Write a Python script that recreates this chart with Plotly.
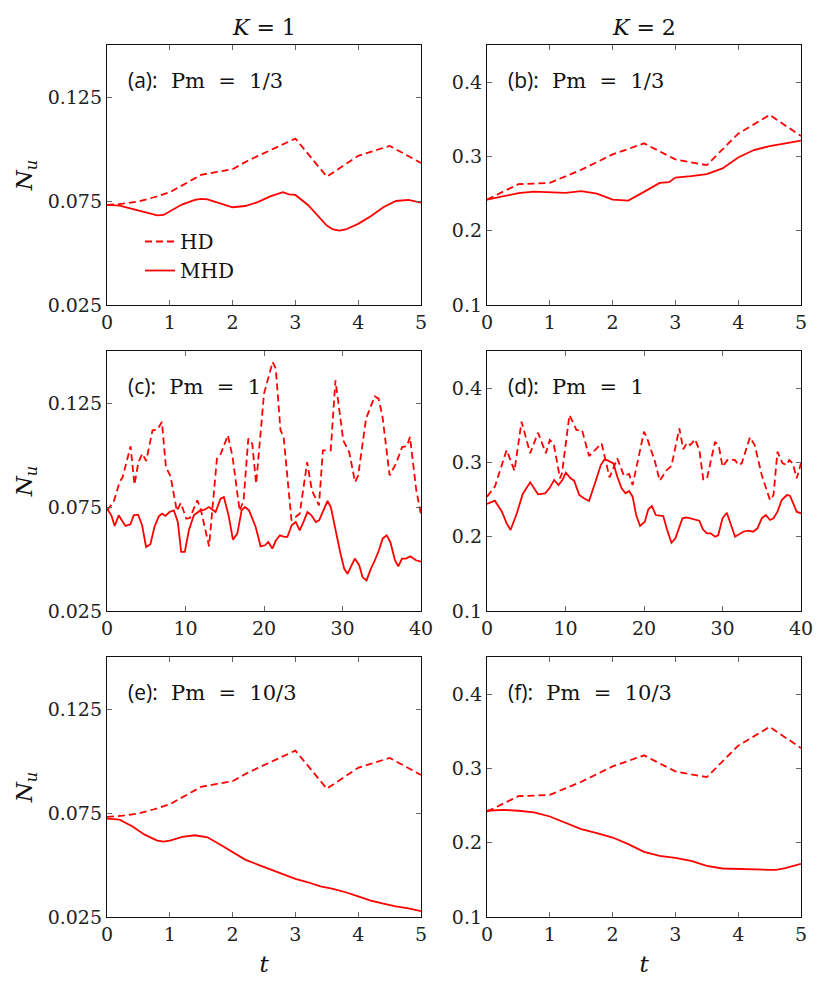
import plotly.graph_objects as go
from plotly.subplots import make_subplots

# HD runs do not depend on Pm, so (a)/(e) and (b)/(f) share them
t_hd_k1 = [0, 0.25, 0.5, 0.75, 1, 1.25, 1.5, 1.75, 2, 2.25, 2.5, 2.75, 3, 3.5, 4, 4.5, 5]
hd_k1 = [0.0731, 0.0737, 0.0748, 0.0768, 0.0792, 0.0835, 0.0876, 0.0890, 0.0903, 0.0945,
         0.0980, 0.1015, 0.1050, 0.0867, 0.0967, 0.1015, 0.0933]

t_hd_k2 = [0, 0.5, 1, 1.5, 2, 2.5, 3, 3.5, 4, 4.5, 5]
hd_k2 = [0.2419, 0.2626, 0.2644, 0.2820, 0.3027, 0.3176, 0.2960, 0.2883, 0.3306, 0.3559, 0.3275]

# (a) K=1, Pm=1/3
t_a = [0, 0.2, 0.4, 0.6, 0.8, 0.9, 1.0, 1.2, 1.4, 1.5, 1.6, 1.8, 2.0, 2.2, 2.4, 2.6, 2.8, 2.9,
       3.0, 3.2, 3.4, 3.5, 3.6, 3.7, 3.8, 4.0, 4.2, 4.4, 4.6, 4.8, 5.0]
mhd_a = [0.0731, 0.0728, 0.0712, 0.0696, 0.0681, 0.0683, 0.0699, 0.0734, 0.0755, 0.0760,
         0.0758, 0.0740, 0.0720, 0.0726, 0.0745, 0.0772, 0.0792, 0.0782, 0.0779, 0.0731,
         0.0664, 0.0632, 0.0613, 0.0608, 0.0613, 0.0640, 0.0677, 0.0720, 0.0750, 0.0755, 0.0742]

# (b) K=2, Pm=1/3
t_b = [0, 0.25, 0.5, 0.75, 1, 1.25, 1.5, 1.75, 2, 2.25, 2.5, 2.75, 2.9, 3, 3.25, 3.5, 3.75,
       4, 4.25, 4.5, 4.75, 5]
mhd_b = [0.2419, 0.2464, 0.2505, 0.2527, 0.2518, 0.2509, 0.2532, 0.2500, 0.2419, 0.2405,
         0.2523, 0.2644, 0.2653, 0.2716, 0.2734, 0.2761, 0.2838, 0.2986, 0.3086, 0.3140,
         0.3176, 0.3212]

# (c) K=1, Pm=1
t_hd_c = [0, 0.85, 1.6, 2, 3, 3.5, 4, 4.5, 5, 5.8, 6.4, 7, 7.5, 8.1, 8.9, 9.4, 10.1, 10.55,
          11.5, 11.9, 13, 14, 14.5, 15.4, 16, 16.6, 16.9, 17.4, 18, 18.5, 19, 20, 20.55, 21.1,
          21.5, 22.1, 22.5, 23.5, 24.55, 25.5, 26.1, 27, 27.5, 28.5, 29.1, 30.1, 30.85, 31.6,
          32, 33, 34.1, 34.6, 35.1, 36, 36.8, 37.6, 38.2, 38.6, 39.4, 40]
hd_c = [0.0734, 0.0774, 0.0870, 0.0894, 0.1042, 0.0857, 0.0966, 0.1006, 0.0971, 0.1119,
        0.1122, 0.1159, 0.0942, 0.0897, 0.0731, 0.0769, 0.0694, 0.0697, 0.0782, 0.0745,
        0.0561, 0.0982, 0.1006, 0.1095, 0.0990, 0.0814, 0.0731, 0.0782, 0.1079, 0.1054,
        0.0862, 0.1295, 0.1367, 0.1447, 0.1415, 0.1119, 0.1087, 0.0686, 0.0718, 0.0966,
        0.0830, 0.0758, 0.1022, 0.1022, 0.1359, 0.1070, 0.1014, 0.0870, 0.0902, 0.1175,
        0.1282, 0.1271, 0.1183, 0.0902, 0.0958, 0.1038, 0.1042, 0.1087, 0.0830, 0.0715]
t_c = [0, 0.55, 0.98, 1.49, 2.34, 2.98, 3.4, 3.96, 4.47, 4.98, 5.53, 6.04, 6.6, 7.02, 7.45,
       7.96, 8.51, 9.02, 9.45, 9.91, 10.43, 11.06, 11.79, 12.43, 12.98, 13.83, 14.47, 14.89,
       15.53, 16.04, 16.6, 17.15, 17.57, 18.09, 18.94, 19.57, 20.13, 20.55, 21.06, 21.53,
       22.04, 22.55, 22.98, 23.53, 24.04, 24.55, 25.11, 25.53, 26.04, 26.6, 27.02, 27.57,
       28.09, 28.51, 29.15, 29.7, 30.21, 30.64, 31.06, 31.57, 32.13, 32.55, 33.06, 33.62,
       34.13, 34.64, 35.11, 35.62, 36.09, 36.68, 37.11, 37.57, 38.09, 38.64, 39.36, 40]
mhd_c = [0.0742, 0.0710, 0.0659, 0.0710, 0.0659, 0.0667, 0.0710, 0.0713, 0.0662, 0.0558,
         0.0571, 0.0654, 0.0705, 0.0718, 0.0707, 0.0726, 0.0734, 0.0678, 0.0534, 0.0534,
         0.0638, 0.0710, 0.0731, 0.0737, 0.0750, 0.0726, 0.0790, 0.0798, 0.0702, 0.0593,
         0.0622, 0.0734, 0.0750, 0.0734, 0.0654, 0.0561, 0.0566, 0.0582, 0.0550, 0.0590,
         0.0614, 0.0606, 0.0606, 0.0662, 0.0678, 0.0638, 0.0686, 0.0726, 0.0710, 0.0678,
         0.0686, 0.0734, 0.0779, 0.0750, 0.0630, 0.0534, 0.0454, 0.0429, 0.0462, 0.0502,
         0.0470, 0.0413, 0.0397, 0.0454, 0.0494, 0.0542, 0.0598, 0.0614, 0.0582, 0.0494,
         0.0465, 0.0502, 0.0502, 0.0513, 0.0494, 0.0487]

# (d) K=2, Pm=1
t_hd_d = [0, 1.0, 2.5, 3.5, 4.4, 5.5, 6.5, 7.5, 8.0, 8.5, 9.3, 9.55, 10.5, 11.4, 12.1, 13.0,
          13.75, 14.6, 15.0, 15.6, 16.0, 16.6, 17.45, 18.1, 18.55, 19.5, 20.0, 20.4, 21.4,
          22.0, 22.9, 23.5, 24.5, 25.0, 25.5, 25.9, 26.5, 27.05, 27.55, 28.0, 28.5, 29.05,
          29.55, 30.0, 30.7, 31.6, 32.0, 32.45, 33.5, 34.1, 35.0, 36.05, 36.5, 37.0, 37.65,
          38.2, 38.5, 38.95, 39.45, 40]
hd_d = [0.2539, 0.2673, 0.3167, 0.2889, 0.3548, 0.3123, 0.3400, 0.3123, 0.3302, 0.3248,
        0.2786, 0.2853, 0.3638, 0.3436, 0.3436, 0.3086, 0.3167, 0.3257, 0.3077, 0.2800,
        0.2898, 0.3055, 0.2817, 0.2844, 0.2696, 0.3167, 0.3413, 0.3324, 0.3010, 0.2754,
        0.2898, 0.2952, 0.3459, 0.3177, 0.3266, 0.3234, 0.3311, 0.3167, 0.2773, 0.2773,
        0.3032, 0.3279, 0.3212, 0.2942, 0.3042, 0.3032, 0.2965, 0.2988, 0.3338, 0.3234,
        0.2830, 0.2494, 0.2561, 0.3144, 0.2988, 0.2965, 0.3032, 0.2988, 0.2786, 0.2988]
t_d = [0, 1.0, 1.9, 2.5, 3.0, 3.8, 4.55, 5.5, 6.5, 7.4, 7.95, 8.55, 9.1, 9.6, 10.05, 10.65,
       11.1, 11.75, 12.35, 13.0, 13.75, 14.5, 15.0, 16.1, 16.6, 17.15, 17.65, 18.1, 18.55,
       19.0, 19.5, 20.1, 20.55, 21.0, 21.5, 22.45, 22.95, 23.5, 24.0, 24.9, 25.4, 27.05,
       27.5, 28.0, 28.5, 29.05, 29.45, 30.0, 30.55, 31.05, 31.6, 32.65, 33.3, 33.9, 34.45,
       35.0, 35.5, 36.05, 36.5, 37.0, 37.55, 38.2, 38.6, 39.45, 40]
mhd_d = [0.2440, 0.2485, 0.2337, 0.2180, 0.2090, 0.2315, 0.2575, 0.2732, 0.2571, 0.2584,
         0.2651, 0.2763, 0.2696, 0.2763, 0.2862, 0.2786, 0.2754, 0.2561, 0.2517, 0.2481,
         0.2719, 0.2965, 0.3046, 0.2988, 0.2808, 0.2651, 0.2584, 0.2615, 0.2539, 0.2292,
         0.2144, 0.2202, 0.2369, 0.2413, 0.2292, 0.2279, 0.2090, 0.1919, 0.1978, 0.2248,
         0.2261, 0.2215, 0.2100, 0.2046, 0.2046, 0.2000, 0.2019, 0.2248, 0.2323, 0.2158,
         0.2000, 0.2067, 0.2081, 0.2067, 0.2113, 0.2248, 0.2292, 0.2225, 0.2248, 0.2337,
         0.2494, 0.2561, 0.2552, 0.2337, 0.2315]

# (e) K=1, Pm=10/3
t_e = [0, 0.2, 0.4, 0.6, 0.8, 0.9, 1.0, 1.2, 1.4, 1.6, 1.8, 2.0, 2.2, 2.4, 2.6, 2.8, 3.0,
       3.2, 3.4, 3.6, 3.8, 4.0, 4.2, 4.4, 4.6, 4.8, 5.0]
mhd_e = [0.0723, 0.0718, 0.0686, 0.0646, 0.0617, 0.0612, 0.0617, 0.0635, 0.0643, 0.0633,
         0.0599, 0.0561, 0.0526, 0.0502, 0.0478, 0.0454, 0.0433, 0.0417, 0.0397, 0.0385,
         0.0369, 0.0349, 0.0329, 0.0314, 0.0301, 0.0292, 0.0278]

# (f) K=2, Pm=10/3
t_f = [0, 0.25, 0.5, 0.75, 1, 1.25, 1.5, 1.75, 2, 2.25, 2.5, 2.75, 3, 3.25, 3.5, 3.75, 4,
       4.25, 4.5, 4.6, 4.75, 5]
mhd_f = [0.2430, 0.2443, 0.2430, 0.2407, 0.2353, 0.2273, 0.2183, 0.2129, 0.2070, 0.1981,
         0.1877, 0.1824, 0.1797, 0.1756, 0.1689, 0.1653, 0.1644, 0.1635, 0.1635, 0.1635,
         0.1657, 0.1716]

labels = ["(a):", "(b):", "(c):", "(d):", "(e):", "(f):"]
pm_text = ["1/3", "1/3", "1", "1", "10/3", "10/3"]

panels = [
    (t_hd_k1, hd_k1, t_a, mhd_a),
    (t_hd_k2, hd_k2, t_b, mhd_b),
    (t_hd_c, hd_c, t_c, mhd_c),
    (t_hd_d, hd_d, t_d, mhd_d),
    (t_hd_k1, hd_k1, t_e, mhd_e),
    (t_hd_k2, hd_k2, t_f, mhd_f),
]

SERIF = "DejaVu Serif"
RED = "#ff0000"
W, H = 830, 995

fig = make_subplots(rows=3, cols=2)

x_dom = [(107, 421), (487, 801)]
y_dom = [(45, 305), (351, 611), (657, 917)]

for i, (th, hd, tm, mhd) in enumerate(panels):
    r, c = i // 2 + 1, i % 2 + 1
    first = i == 0
    fig.add_trace(go.Scatter(x=th, y=hd, mode="lines", name="HD", showlegend=first,
                             line=dict(color=RED, width=1.8, dash="7px,4px")), row=r, col=c)
    fig.add_trace(go.Scatter(x=tm, y=mhd, mode="lines", name="MHD", showlegend=first,
                             line=dict(color=RED, width=1.8)), row=r, col=c)

    n = i + 1
    sfx = "" if n == 1 else str(n)
    xa, ya = "xaxis" + sfx, "yaxis" + sfx
    x0, x1 = x_dom[c - 1]
    y0, y1 = y_dom[r - 1]
    tmax = 40 if r == 2 else 5
    common = dict(showgrid=False, zeroline=False, showline=True, linecolor="#111",
                  linewidth=1.3, mirror="allticks", ticks="inside", ticklen=5,
                  tickcolor="#666", tickwidth=1, automargin=False,
                  tickfont=dict(family=SERIF, size=19, color="#222"))
    fig.layout[xa].update(domain=[x0 / W, x1 / W], range=[0, tmax],
                          dtick=10 if r == 2 else 1, tick0=0, **common)
    if c == 1:
        fig.layout[ya].update(domain=[1 - y1 / H, 1 - y0 / H], range=[0.025, 0.15],
                              tickvals=[0.025, 0.075, 0.125], tickformat=".3f", **common)
        fig.layout[ya].title = dict(text="<i>N</i><sub><i>u</i></sub>",
                                    font=dict(family=SERIF, size=23), standoff=8)
    else:
        fig.layout[ya].update(domain=[1 - y1 / H, 1 - y0 / H], range=[0.1, 0.45],
                              tickvals=[0.1, 0.2, 0.3, 0.4], tickformat=".1f", **common)
    if r == 3:
        fig.layout[xa].title = dict(text="<i>t</i>", font=dict(family=SERIF, size=23),
                                    standoff=11)

    fig.add_annotation(
        xref=f"x{sfx} domain", yref=f"y{sfx} domain", x=0.06, y=0.865,
        xanchor="left", yanchor="middle", showarrow=False,
        text=(f'<span style="font-family:Open Sans">{labels[i]}</span>&nbsp; '
              f"Pm&nbsp; =&nbsp; {pm_text[i]}"),
        font=dict(family=SERIF, size=21, color="#111"),
    )

for k, col in enumerate(x_dom):
    fig.add_annotation(xref="paper", yref="paper", x=(col[0] + col[1]) / 2 / W,
                       y=1 - 27 / H, xanchor="center", yanchor="middle", showarrow=False,
                       text=f"<i>K</i> = {k + 1}",
                       font=dict(family=SERIF, size=22, color="#111"))

fig.update_layout(
    width=W, height=H,
    margin=dict(l=0, r=0, t=0, b=0),
    paper_bgcolor="white", plot_bgcolor="white",
    font=dict(family=SERIF, color="#111"),
    legend=dict(x=140 / W, y=1 - 222 / H, xanchor="left", yanchor="top",
                bgcolor="rgba(0,0,0,0)", font=dict(family=SERIF, size=20),
                tracegroupgap=0),
)

fig.write_html("out.html", config={"displayModeBar": False},
               post_script="document.body.style.margin = '0px';")
